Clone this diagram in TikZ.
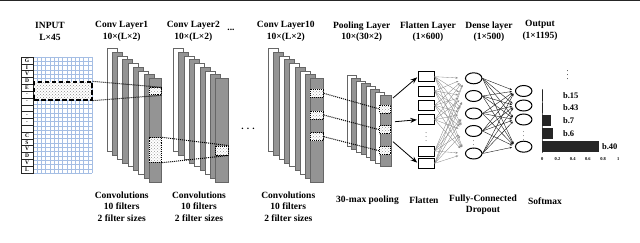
\documentclass[tikz,border=0pt]{standalone}
\usepackage{fontspec}
\setmainfont{Liberation Serif}
\usetikzlibrary{arrows.meta, positioning, patterns, shapes.geometric}

\begin{document}
\begin{tikzpicture}[x=1pt, y=-1pt, >=Stealth, font=\bfseries\fontsize{9.5}{11.5}\selectfont]

    % Define styles
    \tikzset{
        sheetwhite/.style={draw=black!60, fill=white, line width=0.4pt},
        sheetgray/.style={draw=black!60, fill=black!42, line width=0.4pt},
        gridline/.style={draw={rgb,255:red,165;green,190;blue,228}, line width=0.35pt},
        letterbox/.style={draw=black!85, line width=0.45pt, fill=white, minimum width=12pt, minimum height=6.82pt, inner sep=0pt, font=\bfseries\fontsize{5.5}{5.5}\selectfont},
        selbox/.style={draw=black, line width=1.3pt, dash pattern=on 4.5pt off 2.5pt, preaction={fill=white}, pattern=crosshatch dots, pattern color=black!45, inner sep=0pt},
        smallbox/.style={draw=black, line width=0.9pt, densely dotted, preaction={fill=white}, pattern=crosshatch dots, pattern color=black!40, inner sep=0pt},
        dotline/.style={black, line width=1pt, densely dotted},
        pfarrow/.style={->, black, line width=0.8pt, shorten >=1pt},
        flatbox/.style={draw, fill=white, line width=0.8pt, minimum width=16pt, minimum height=10pt, inner sep=0pt},
        neuron/.style={ellipse, draw, fill=white, line width=1pt, minimum width=16.5pt, minimum height=11pt, inner sep=0pt},
        fcline/.style={-{Stealth[length=2.5pt, width=2pt]}, black!45, line width=0.35pt, shorten >=7pt},
        dcline/.style={-{Stealth[length=2.5pt, width=2pt]}, black!90, line width=0.4pt, shorten >=3pt},
        vdotsnode/.style={inner sep=0pt, font=\fontsize{6.5}{6.5}\selectfont},
        title/.style={align=center},
        bartext/.style={font=\bfseries\fontsize{8.5}{8.5}\selectfont},
        ticktext/.style={font=\bfseries\fontsize{4.5}{4.5}\selectfont, inner sep=0pt}
    }

    \useasboundingbox (0,0) rectangle (640,243);
    \draw[black!85, line width=1.4pt] (0,0.7) -- (640,0.7);

    % 1. Input matrix
    \foreach \c in {0,...,14} \draw[gridline] ({33+\c*4.214},57) -- ++(0,116);
    \foreach \r in {0,...,27} \draw[gridline] (33,{57+\r*4.296}) -- ++(59,0);
    \foreach \l [count=\i] in {G,I,V,D,E,.,.,{},.,.,{},C,S,V,D,V,L}
        \node[letterbox] (L\i) at (27,{57+(\i-0.5)*6.824}) {\l};
    \node[selbox, minimum width=58pt, minimum height=18pt] (inbox) at (63,91) {};

    % 2. Convolution stacks
    \foreach \xo in {106.7, 173.3, 268.3} {
        \foreach \k in {0,...,7} {
            \ifodd\k \def\sty{sheetgray}\else \def\sty{sheetwhite}\fi
            \draw[\sty] ({\xo+\k*5.29},{48.3+\k*3.75}) rectangle ++(10,103.4);
        }
        \draw[sheetgray] ({\xo+42.3},78.3) rectangle ++(12.3,103.4);
    }

    % 3. Pooling stack
    \foreach \k in {0,...,6} {
        \ifodd\k \def\sty{sheetgray}\else \def\sty{sheetwhite}\fi
        \draw[\sty] ({346.7+\k*4.76},{75+\k*2.86}) rectangle ++(9,71);
    }
    \draw[sheetgray] (380,95) rectangle ++(10.7,71);

    % 4. Receptive fields
    \node[smallbox, minimum width=12.5pt, minimum height=7pt] (c1a) at (155.2,91.3) {};
    \node[smallbox, minimum width=12.5pt, minimum height=24.5pt] (c1b) at (155.6,150) {};
    \node[smallbox, minimum width=12.5pt, minimum height=9pt] (c2a) at (221.8,150.5) {};
    \node[smallbox, minimum width=13pt, minimum height=8pt] (c10a) at (316.8,93.3) {};
    \node[smallbox, minimum width=13pt, minimum height=8pt] (c10b) at (316.8,115) {};
    \node[smallbox, minimum width=13pt, minimum height=8pt] (c10c) at (316.8,136.7) {};
    \node[smallbox, minimum width=11pt, minimum height=8pt] (pla) at (385.3,109) {};
    \node[smallbox, minimum width=11pt, minimum height=8pt] (plb) at (385.3,129.7) {};
    \node[smallbox, minimum width=11pt, minimum height=8pt] (plc) at (385.3,150.8) {};

    \draw[dotline] (inbox.north east) -- (c1a.north east);
    \draw[dotline] (inbox.south east) -- (c1a.south east);
    \draw[dotline] (c1b.north east) -- (c2a.north east);
    \draw[dotline] (c1b.south east) -- (c2a.south east);
    \draw[dotline] (c10a.east) -- (pla.west);
    \draw[dotline] (c10b.east) -- (plb.west);
    \draw[dotline] (c10c.east) -- (plc.west);

    % 5. Flatten layer
    \foreach \y [count=\i] in {76.7, 91, 105.3, 119.7, 151, 163.3}
        \node[flatbox] (f\i) at (426.3,\y) {};
    \node[vdotsnode] (fdots) at (426.3,134) {$\vdots$};

    \coordinate (pa) at (393,98);
    \coordinate (pb) at (395,121.7);
    \coordinate (pc) at (393,141.7);
    \draw[pfarrow] (pa) -- (f1.west);
    \draw[pfarrow] (pb) -- (f4.west);
    \draw[pfarrow] (pc) -- (f6.west);

    % 6. Dense and output layers
    \foreach \y [count=\i] in {78.3, 96, 113.5, 131, 153.5}
        \node[neuron] (d\i) at (473.7,\y) {};
    \foreach \y [count=\i] in {91, 105.5, 119.5, 146.7}
        \node[neuron] (o\i) at (523.7,\y) {};

    \foreach \i in {1,...,6}
        \foreach \j in {1,...,5}
            \draw[fcline] (f\i.east) -- (d\j.west);
    \foreach \i in {1,...,5}
        \foreach \j in {1,...,4}
            \draw[dcline] (d\i.east) -- (o\j.west);
    \node[vdotsnode] (ddots) at (473.7,142.3) {$\vdots$};
    \node[vdotsnode] (odots) at (523.7,133.2) {$\vdots$};

    % 7. Softmax bar chart
    \draw[black!60, line width=0.5pt] (542.3,89) -- (542.3,152.7);
    \foreach \nm/\v [count=\i] in {b.15/0.012, b.43/0.012, b.7/0.12, b.6/0.14} {
        \fill[black!85] (542.3,{90+(\i-1)*12.7}) rectangle ++({76*\v},10.8);
        \node[bartext, anchor=west] (bar\i) at (559.5,{95.4+(\i-1)*12.7}) {\nm};
    }
    \fill[black!85] (542.3,140.8) rectangle ++({76*0.74},11);
    \node[bartext, anchor=west] (bar5) at (598.5,146.3) {b.40};
    \foreach \t in {0,0.2,0.4,0.6,0.8,1}
        \node[ticktext] at ({542.3+76*\t},159) {\t};
    \node[vdotsnode, font=\fontsize{8}{8}\selectfont] (bdots) at (567.7,72) {$\vdots$};

    % 8. Titles
    \node[title] (tin) at (50,31.5) {INPUT\\L×45};
    \node[title] (tc1) at (121.7,31.5) {Conv Layer1\\10×(L×2)};
    \node[title] (tc2) at (193.3,31.5) {Conv Layer2\\10×(L×2)};
    \node (tdots) at (231,30) {...};
    \node[title] (tc10) at (285.8,31.5) {Conv Layer10\\10×(L×2)};
    \node[title] (tpl) at (361.7,31.5) {Pooling Layer\\10×(30×2)};
    \node[title] (tfl) at (428,31.5) {Flatten Layer\\(1×600)};
    \node[title] (tde) at (489,31.5) {Dense layer\\(1×500)};
    \node[title] (tout) at (540,30.5) {Output\\(1×1195)};
    \node (mdots) at (248,129) {.\,\,.\,\,.};

    % 9. Operation labels
    \node[title] (oc1) at (121.7,206.7) {Convolutions\\10 filters\\2 filter sizes};
    \node[title] (oc2) at (199,206.7) {Convolutions\\10 filters\\2 filter sizes};
    \node[title] (oc10) at (288.3,206.7) {Convolutions\\10 filters\\2 filter sizes};
    \node (opl) at (367.5,200) {30-max pooling};
    \node (ofl) at (424,200) {Flatten};
    \node[title] (ofc) at (483,204.5) {Fully-Connected\\Dropout};
    \node (osm) at (545,201.7) {Softmax};

\end{tikzpicture}
\end{document}
